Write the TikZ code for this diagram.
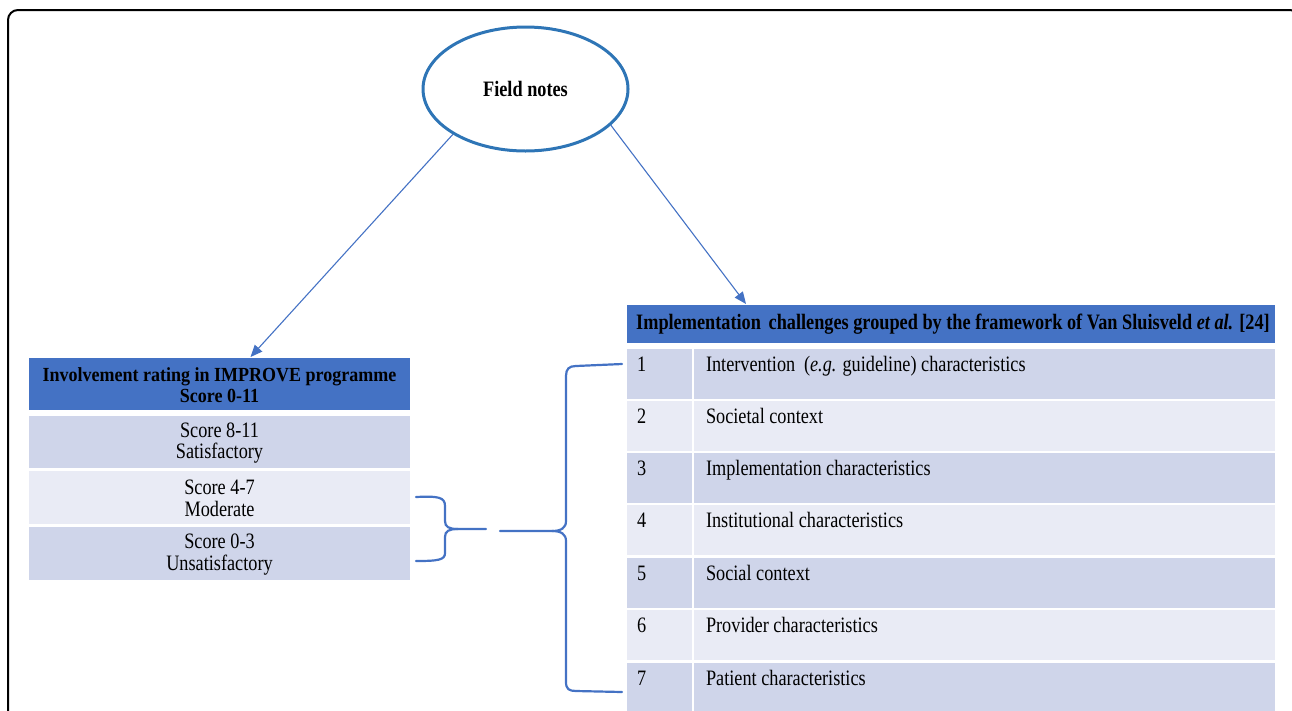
\documentclass[tikz,border=0pt]{standalone}
\usepackage{fontspec}
\setmainfont{Liberation Serif}[FakeStretch=0.83]
\newfontfamily\lhdrfont{Liberation Serif}[FakeStretch=0.9]
\usetikzlibrary{arrows.meta,shapes.geometric,calc}
\definecolor{hdr}{HTML}{4472C4}
\definecolor{rowA}{HTML}{CFD5EA}
\definecolor{rowB}{HTML}{E9EBF5}
\definecolor{ellc}{HTML}{2E75B6}
\definecolor{linec}{HTML}{4472C4}
\begin{document}
\begin{tikzpicture}[x=1pt,y=-1pt,
  cellbox/.style={anchor=north west, inner sep=0pt, outer sep=0pt, draw=none},
  bodytxt/.style={font=\fontsize{22}{21.5}\selectfont, inner sep=0pt, outer sep=0pt},
  boldtxt/.style={font=\fontsize{22}{20}\selectfont\bfseries, inner sep=0pt, outer sep=0pt},
  lhdrtxt/.style={font=\lhdrfont\fontsize{20}{21.5}\selectfont\bfseries, inner sep=0pt, outer sep=0pt},
  conn/.style={draw=linec, line width=1.1pt, -{Triangle[length=12pt,width=10pt]}},
  bracepath/.style={draw=linec, line width=2.2pt, line cap=round},
]
\useasboundingbox (0,0) rectangle (1292,710);
\begin{scope}
  \clip (0,0) rectangle (1292,710);
  \draw[line width=2pt, rounded corners=10pt] (8,10) rectangle (1300,780);
\end{scope}

% ellipse
\node[ellipse, draw=ellc, line width=3pt, minimum width=205pt, minimum height=124pt, inner sep=0pt] (fn) at (525.5,89) {};
\node[boldtxt] (fntxt) at (525.5,89) {Field notes};

% left table
\node[cellbox, fill=hdr, minimum width=381pt, minimum height=52pt] (lhead) at (29,358) {};
\node[cellbox, fill=rowA, minimum width=381pt, minimum height=52pt] (lr1) at (29,416) {};
\node[cellbox, fill=rowB, minimum width=381pt, minimum height=53pt] (lr2) at (29,471) {};
\node[cellbox, fill=rowA, minimum width=381pt, minimum height=53pt] (lr3) at (29,527) {};
\node[lhdrtxt, align=center] (lheadt) at ($(lhead.center)+(0,1)$) {Involvement rating in IMPROVE programme\\Score 0-11};
\node[bodytxt, align=center] (lr1t) at ($(lr1.center)+(0,1)$) {Score 8-11\\Satisfactory};
\node[bodytxt, align=center] (lr2t) at ($(lr2.center)+(0,1)$) {Score 4-7\\Moderate};
\node[bodytxt, align=center] (lr3t) at ($(lr3.center)+(0,1)$) {Score 0-3\\Unsatisfactory};

% right table
\node[cellbox, fill=hdr, minimum width=648pt, minimum height=38pt] (rhead) at (627,305) {};
\node[boldtxt] (rheadt) at ($(rhead.center)+(2,0)$) {Implementation\hspace{0.35em}challenges grouped by the framework of Van Sluisveld \textit{et al.} [24]};

\foreach \i/\top/\col/\txt in {
  1/349/rowA/{Intervention\hspace{0.4em}(\textit{e.g.} guideline) characteristics},
  2/401/rowB/{Societal context},
  3/453/rowA/{Implementation characteristics},
  4/505/rowB/{Institutional characteristics},
  5/558/rowA/{Social context},
  6/610/rowB/{Provider characteristics},
  7/663/rowA/{Patient characteristics}}{
  \node[cellbox, fill=\col, minimum width=65pt, minimum height=49.5pt] (n\i) at (627,\top) {};
  \node[cellbox, fill=\col, minimum width=581pt, minimum height=49.5pt] (t\i) at (694,\top) {};
  \node[bodytxt, anchor=base west] (n\i t) at ($(n\i.north west)+(10,22)$) {\i};
  \node[bodytxt, anchor=base west] (t\i t) at ($(t\i.north west)+(12,22)$) {\txt};
}

% arrows
\draw[conn] (fn.212) -- ($(lhead.north)+(31,-1)$);
\draw[conn] (fn.337) -- ($(rhead.north west)+(119,-1)$);

% small brace
\draw[bracepath] (416,497) .. controls (438,496) and (445,497) .. (445,506) -- (445,521)
  .. controls (445,527) and (449,529) .. (458,529) -- (486,529);
\draw[bracepath] (458,529) .. controls (449,529) and (445,531) .. (445,537) -- (445,553)
  .. controls (445,560) and (438,561) .. (416,561);

% large brace
\draw[bracepath] (622,364) -- (576,366) .. controls (569,366) and (566,369) .. (566,376) -- (566,521)
  .. controls (566,528) and (561,531) .. (552,531) -- (500,531);
\draw[bracepath] (552,531) .. controls (561,531) and (566,534) .. (566,541) -- (566,682)
  .. controls (566,689) and (569,691) .. (576,691) -- (622,692);
\end{tikzpicture}
\end{document}
